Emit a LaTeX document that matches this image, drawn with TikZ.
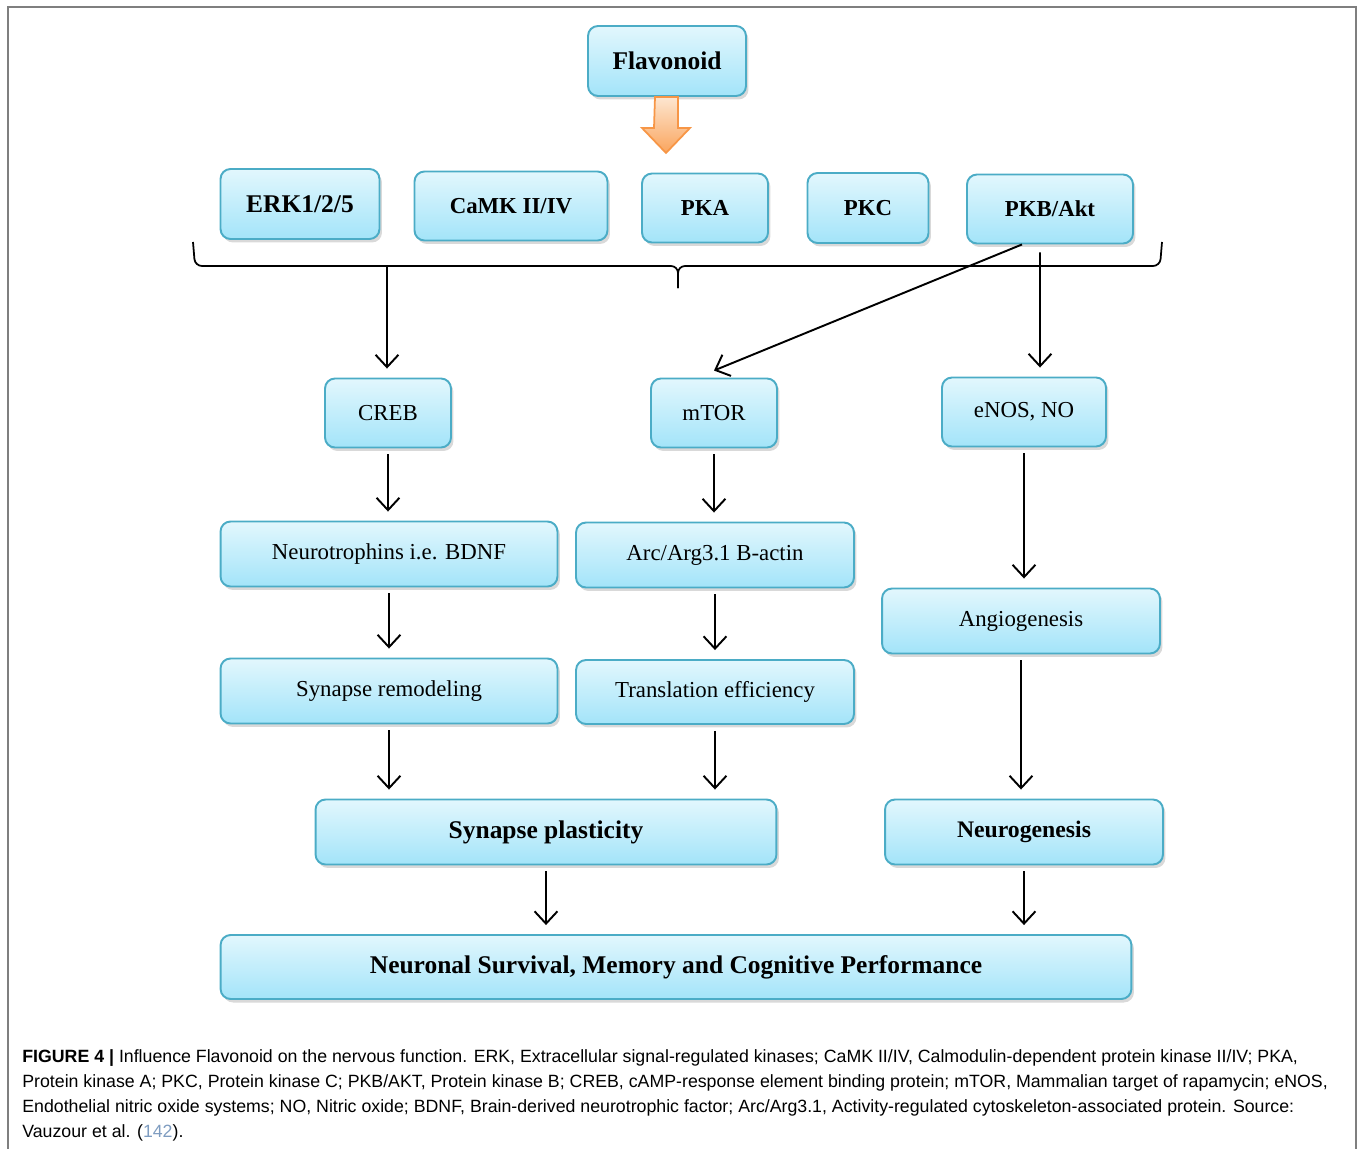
\documentclass[tikz,border=0pt]{standalone}
\usepackage{fontspec}
\setmainfont{Liberation Serif}
\newfontfamily\capfont{Liberation Sans}
\usepackage{xcolor}
\usepackage{tikz}
\usetikzlibrary{arrows.meta,shadows,calc}
\definecolor{boxline}{HTML}{4BACC6}
\definecolor{boxtop}{HTML}{E2F7FD}
\definecolor{boxbot}{HTML}{A3E4F9}
\definecolor{arrline}{HTML}{F79646}
\definecolor{arrtop}{HTML}{FDE6D0}
\definecolor{arrbot}{HTML}{FAA55E}
\definecolor{framegray}{HTML}{7F7F7F}
\definecolor{refblue}{HTML}{7E9CC0}
\tikzstyle{bluebox}=[draw=boxline, line width=1.1pt, rounded corners=0.2cm, top color=boxtop, bottom color=boxbot, drop shadow={opacity=0.3, shadow xshift=0.05cm, shadow yshift=-0.07cm}, inner sep=0pt, font=\fontsize{13}{15}\selectfont]
\tikzstyle{midbox}=[bluebox, font=\fontsize{13}{15}\selectfont\bfseries]
\tikzstyle{boldbox}=[bluebox, font=\fontsize{14.5}{17}\selectfont\bfseries]
\tikzstyle{flow}=[-{Straight Barb[length=7pt,width=13pt]}, line width=1.1pt, shorten <=0.12cm, shorten >=0.18cm]

\begin{document}
\begin{tikzpicture}[x=0.02cm,y=-0.02cm]
	\useasboundingbox (0,0) rectangle (1360,1149);
	\draw[framegray, line width=1.2pt] (8,1149) -- (8,7) -- (1356,7) -- (1356,1149);
	% source
	\node[boldbox, minimum width=3.16cm, minimum height=1.4cm] (flav) at (667,61) {Flavonoid};
	\path[draw=arrline, top color=arrtop, bottom color=arrbot, line width=1pt] (flav.south) ++(-12,0) -- ++(23,0) -- ++(0,31) -- ++(12,0) -- ++(-24,25) -- ++(-24,-25) -- ++(12,0) -- cycle;
	% kinases
	\node[boldbox, minimum width=3.18cm, minimum height=1.4cm] (erk) at (300,204) {ERK1/2/5};
	\node[midbox, minimum width=3.86cm, minimum height=1.38cm] (camk) at (511,206) {CaMK II/IV};
	\node[midbox, minimum width=2.52cm, minimum height=1.38cm] (pka) at (705,208) {PKA};
	\node[midbox, minimum width=2.42cm, minimum height=1.4cm] (pkc) at (868,208) {PKC};
	\node[midbox, minimum width=3.32cm, minimum height=1.38cm] (akt) at (1050,209) {PKB/Akt};
	% brace
	\draw[line width=1pt, rounded corners=0.14cm] (193,242) -- (195,266) -- (678,266) -- (678,288);
	\draw[line width=1pt, rounded corners=0.14cm] (1162,242) -- (1160,266) -- (678,266) -- (678,288);
	\coordinate (bracel) at (387,266);
	% targets
	\node[bluebox, minimum width=2.52cm, minimum height=1.38cm] (creb) at (388,413) {CREB};
	\node[bluebox, minimum width=2.52cm, minimum height=1.38cm] (mtor) at (714,413) {mTOR};
	\node[bluebox, minimum width=3.28cm, minimum height=1.38cm] (enos) at (1024,412) {eNOS, NO};
	\node[bluebox, minimum width=6.74cm, minimum height=1.3cm] (bdnf) at (389,554) {Neurotrophins i.e. BDNF};
	\node[bluebox, minimum width=5.56cm, minimum height=1.3cm] (arc) at (715,555) {Arc/Arg3.1 B-actin};
	\node[bluebox, minimum width=5.56cm, minimum height=1.3cm] (angio) at (1021,621) {Angiogenesis};
	\node[bluebox, minimum width=6.74cm, minimum height=1.3cm] (remod) at (389,691) {Synapse remodeling};
	\node[bluebox, minimum width=5.56cm, minimum height=1.28cm] (transl) at (715,692) {Translation efficiency};
	\node[boldbox, minimum width=9.22cm, minimum height=1.3cm] (plast) at (546,832) {Synapse plasticity};
	\node[boldbox, font=\fontsize{13.5}{16}\selectfont\bfseries, minimum width=5.56cm, minimum height=1.3cm] (neuro) at (1024,832) {Neurogenesis};
	\node[boldbox, minimum width=18.22cm, minimum height=1.28cm] (surv) at (676,967) {Neuronal Survival, Memory and Cognitive Performance};
	% arrows
	\draw[flow, shorten <=0pt] (bracel) -- (bracel |- creb.north);
	\draw[flow, shorten <=0pt, shorten >=0pt] ([xshift=-0.56cm]akt.south) -- ([yshift=0.14cm]mtor.north);
	\draw[flow, shorten <=0.16cm] ([xshift=-0.2cm]akt.south) -- ([xshift=0.32cm]enos.north);
	\draw[flow] (creb.south) -- (creb.south |- bdnf.north);
	\draw[flow] (mtor.south) -- (mtor.south |- arc.north);
	\draw[flow] (enos.south) -- (enos.south |- angio.north);
	\draw[flow] (bdnf.south) -- (remod.north);
	\draw[flow] (arc.south) -- (transl.north);
	\draw[flow] (angio.south) -- (angio.south |- neuro.north);
	\draw[flow] (remod.south) -- (remod.south |- plast.north);
	\draw[flow] (transl.south) -- (transl.south |- plast.north);
	\draw[flow] (plast.south) -- (plast.south |- surv.north);
	\draw[flow] (neuro.south) -- (neuro.south |- surv.north);
	% caption
	\node[anchor=north west, align=left, inner sep=0pt, font=\capfont\fontsize{10.1}{14.2}\selectfont] (caption) at (22,1049) {\textbf{FIGURE 4 |} Influence Flavonoid on the nervous function. ERK, Extracellular signal-regulated kinases; CaMK II/IV, Calmodulin-dependent protein kinase II/IV; PKA,\\
	Protein kinase A; PKC, Protein kinase C; PKB/AKT, Protein kinase B; CREB, cAMP-response element binding protein; mTOR, Mammalian target of rapamycin; eNOS,\\
	Endothelial nitric oxide systems; NO, Nitric oxide; BDNF, Brain-derived neurotrophic factor; Arc/Arg3.1, Activity-regulated cytoskeleton-associated protein. Source:\\
	Vauzour et al. ({\color{refblue}142}).};
\end{tikzpicture}
\end{document}
